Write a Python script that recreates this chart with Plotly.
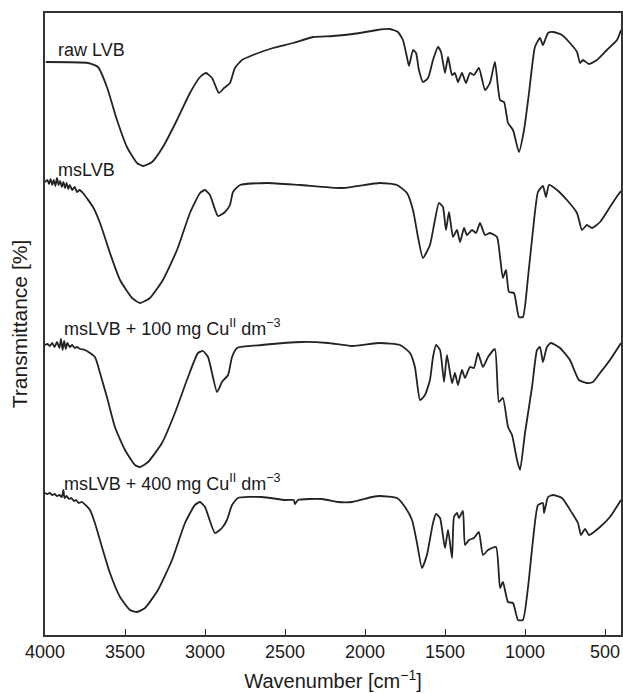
import plotly.graph_objects as go

# Wavenumbers [cm^-1] and transmittance (arbitrary, vertically offset units)
raw_wn = [3995, 3731, 3669, 3613, 3550, 3488, 3425, 3388, 3331, 3263, 3175, 3094, 3031, 2994, 2956, 2913,
          2881, 2844, 2813, 2769, 2700, 2575, 2450, 2325, 2200, 2031, 1925, 1844, 1794, 1763, 1738, 1725,
          1700, 1681, 1663, 1638, 1606, 1575, 1544, 1525, 1500, 1481, 1456, 1438, 1419, 1394, 1369, 1344,
          1319, 1288, 1250, 1219, 1188, 1156, 1131, 1106, 1075, 1038, 1006, 975, 938, 906, 888, 856, 825,
          769, 719, 675, 656, 638, 600, 550, 488, 425, 400]
raw_t = [573, 572, 568, 548, 515, 488, 472, 469, 473, 488, 515, 542, 558, 562, 557, 542,
         547, 552, 567, 575, 580, 587, 592, 598, 599, 602, 605, 606, 603, 595, 578, 569,
         585, 582, 565, 553, 557, 575, 588, 583, 562, 578, 560, 562, 553, 562, 552, 562,
         560, 567, 545, 552, 573, 535, 533, 512, 505, 483, 505, 542, 588, 597, 590, 602, 603,
         600, 592, 583, 572, 575, 571, 575, 585, 595, 605]

ms_wn = [4000, 3985, 3975, 3965, 3955, 3945, 3935, 3925, 3915, 3905, 3895, 3885, 3875, 3865, 3855, 3845,
         3830, 3815, 3800, 3785, 3763, 3700, 3656, 3594, 3531, 3456, 3406, 3344, 3263, 3175,
         3094, 3031, 3000, 2969, 2919, 2875, 2844, 2825, 2781, 2613, 2406, 2138, 1906, 1800, 1738, 1700,
         1669, 1638, 1594, 1563, 1538, 1513, 1494, 1475, 1450, 1425, 1406, 1381, 1363, 1331, 1306, 1281,
         1250, 1219, 1175, 1156, 1138, 1119, 1100, 1069, 1038, 1013, 981, 950, 919, 888, 869, 850, 800,
         738, 675, 644, 613, 581, 531, 469, 419, 400]
ms_t = [453, 455, 451, 456, 450, 455, 449, 457, 450, 454, 448, 453, 447, 452, 446, 450,
        445, 448, 443, 445, 442, 428, 412, 382, 355, 337, 332, 337, 355, 385,
        422, 442, 445, 440, 419, 423, 430, 443, 450, 452, 450, 447, 452, 450, 442, 425,
        398, 377, 390, 415, 432, 428, 405, 423, 398, 405, 393, 407, 400, 405, 402, 412,
        400, 402, 398, 378, 357, 365, 343, 342, 318, 318, 358, 405, 443, 449, 438, 450, 445,
        435, 422, 405, 410, 407, 413, 428, 440, 444]

cu100_wn = [4000, 3985, 3970, 3955, 3940, 3925, 3910, 3900, 3890, 3880, 3870, 3860, 3845, 3830, 3815, 3800,
            3780, 3750, 3688, 3656, 3613, 3563, 3500, 3438, 3406, 3356, 3269, 3188,
            3106, 3044, 3013, 2981, 2925, 2894, 2856, 2831, 2800, 2644, 2394, 2231, 2081, 1906, 1781, 1719,
            1688, 1656, 1625, 1594, 1575, 1556, 1531, 1506, 1488, 1456, 1438, 1419, 1394, 1375, 1344, 1319,
            1294, 1263, 1231, 1188, 1163, 1138, 1106, 1081, 1050, 1031, 1000, 956, 925, 906, 888, 863, 838,
            781, 719, 663, 613, 575, 531, 469, 400]
cu100_t = [290, 291, 289, 292, 288, 293, 287, 296, 285, 294, 286, 292, 288, 290, 287, 288,
           286, 285, 278, 262, 238, 208, 185, 170, 168, 173, 192, 222,
           258, 282, 284, 278, 243, 253, 260, 278, 287, 290, 293, 292, 289, 292, 290, 282,
           268, 235, 240, 255, 278, 290, 285, 253, 280, 252, 262, 250, 265, 257, 268, 267,
           282, 268, 278, 286, 233, 237, 208, 200, 175, 165, 202, 248, 285, 288, 273, 288, 292,
           287, 275, 255, 252, 253, 262, 275, 292]

cu400_wn = [4000, 3985, 3970, 3955, 3940, 3925, 3910, 3895, 3885, 3878, 3865, 3850, 3835, 3820, 3805, 3790,
            3769, 3719, 3688, 3644, 3594, 3531, 3469, 3425, 3375, 3294, 3206,
            3125, 3063, 3031, 3000, 2938, 2894, 2863, 2831, 2794, 2644, 2500, 2445, 2438, 2419, 2269, 2169,
            2081, 1956, 1906, 1800, 1750, 1706, 1675, 1644, 1613, 1575, 1556, 1531, 1500, 1481, 1456, 1444,
            1425, 1413, 1388, 1375, 1350, 1319, 1288, 1263, 1231, 1181, 1156, 1138, 1106, 1075, 1044, 1013,
            981, 950, 919, 888, 881, 856, 825, 769, 706, 669, 650, 625, 600, 531, 469, 400]
cu400_t = [142, 141, 142, 140, 141, 139, 140, 138, 145, 137, 139, 136, 137, 134, 135, 132,
           133, 125, 112, 88, 62, 38, 25, 23, 27, 45, 75,
           112, 130, 133, 128, 102, 107, 115, 130, 137, 138, 135, 135, 131, 135, 136, 133,
           133, 138, 139, 137, 128, 115, 92, 67, 80, 112, 121, 117, 87, 105, 77, 118,
           122, 117, 124, 90, 95, 97, 103, 80, 85, 88, 47, 53, 33, 32, 15, 15,
           48, 95, 130, 132, 122, 138, 140, 137, 122, 112, 100, 106, 100, 108, 118, 135]

labels = ["raw LVB", "msLVB",
          "msLVB + 100 mg Cu<sup>II</sup> dm<sup>\u22123</sup>",
          "msLVB + 400 mg Cu<sup>II</sup> dm<sup>\u22123</sup>"]
label_wn = [3931, 3931, 3894, 3894]
label_t = [585, 465, 308, 153]

x_ticks = [4000, 3500, 3000, 2500, 2000, 1500, 1000, 500]

FONT = "Liberation Sans, Arial, Helvetica, sans-serif"
LINE = "#232323"

fig = go.Figure()
for wn, t in [(raw_wn, raw_t), (ms_wn, ms_t), (cu100_wn, cu100_t), (cu400_wn, cu400_t)]:
    fig.add_trace(go.Scatter(x=wn, y=t, mode="lines",
                             line=dict(color=LINE, width=1.8, shape="spline", smoothing=0.5),
                             showlegend=False, hoverinfo="skip"))

for txt, xw, yt in zip(labels, label_wn, label_t):
    fig.add_annotation(x=xw, y=yt, text=txt, showarrow=False, xanchor="left", yanchor="middle",
                       font=dict(family=FONT, size=18, color="#1a1a1a"))

fig.update_layout(
    width=623, height=693,
    margin=dict(l=45, r=2, t=13, b=58),
    paper_bgcolor="white", plot_bgcolor="white",
    font=dict(family=FONT, size=18, color="#1a1a1a"),
)
fig.update_xaxes(range=[4000, 400], tickvals=x_ticks, ticks="inside", ticklen=6, tickcolor="#333",
                 showline=True, linecolor="#333", linewidth=1.5, mirror=True, showgrid=False,
                 zeroline=False, tickfont=dict(size=18), automargin=False,
                 title=dict(text="Wavenumber [cm<sup>\u22121</sup>]", font=dict(size=20), standoff=13))
fig.update_yaxes(range=[0, 622], showticklabels=False, ticks="", showline=True, linecolor="#333",
                 linewidth=1.5, mirror=True, showgrid=False, zeroline=False, automargin=False,
                 title=dict(text="Transmittance [%]", font=dict(size=21), standoff=10))

fig.write_html("out.html", config={"displayModeBar": False},
               post_script="document.body.style.margin='0';document.body.style.overflow='hidden';")
